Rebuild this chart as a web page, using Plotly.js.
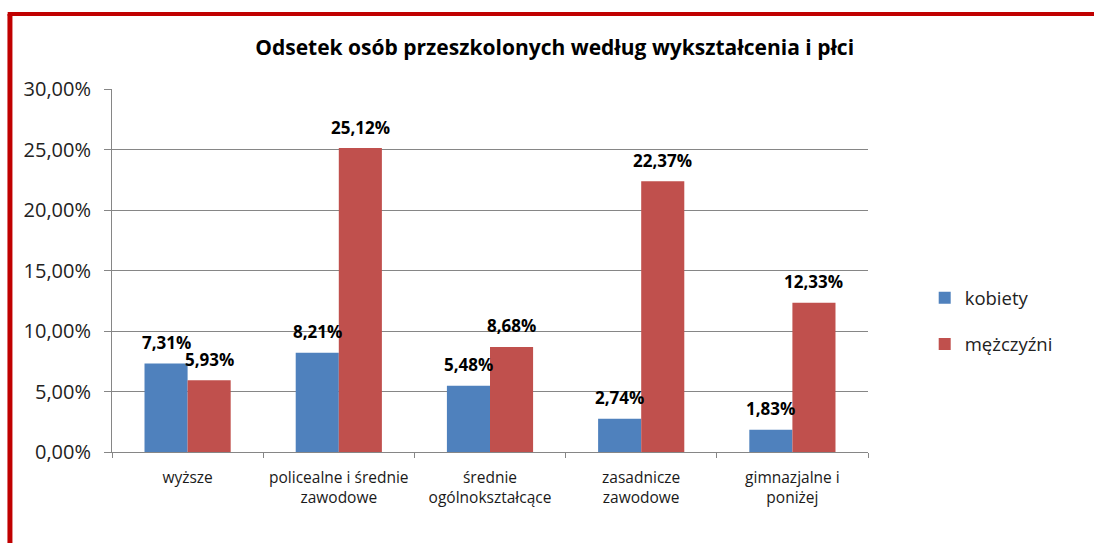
<!DOCTYPE html>
<html>
<head>
<meta charset="utf-8">
<script src="https://cdn.plot.ly/plotly-3.0.1.min.js"></script>
<style>html,body{margin:0;padding:0;background:#fff;}#chart{width:1094px;height:543px;}</style>
</head>
<body>
<div id="chart"></div>
<script>
const categories = ["wyższe", "policealne i średnie<br>zawodowe", "średnie<br>ogólnokształcące", "zasadnicze<br>zawodowe", "gimnazjalne i<br>poniżej"];
const kobiety = [0.0731, 0.0821, 0.0548, 0.0274, 0.0183];
const mezczyzni = [0.0593, 0.2512, 0.0868, 0.2237, 0.1233];
const seriesNames = ["kobiety", "mężczyźni"];
const seriesColors = ["#4F81BD", "#C0504D"];
const yTicks = [0, 0.05, 0.10, 0.15, 0.20, 0.25, 0.30];

const mainFont = "'Open Sans', Lato, sans-serif";
const allSeries = [kobiety, mezczyzni];

const traces = allSeries.map((vals, i) => ({
  type: "bar", name: seriesNames[i], x: categories, y: vals,
  marker: {color: seriesColors[i]}, legendgroup: "g" + i, hoverinfo: "none"
}));

const fmt = v => (v * 100).toFixed(2).replace(".", ",") + "%";
const annotations = [];
allSeries.forEach((vals, i) => {
  vals.forEach((v, j) => {
    annotations.push({
      x: categories[j], y: v, xref: "x", yref: "y",
      text: "<b>" + fmt(v) + "</b>", showarrow: false,
      xshift: (i === 0 ? -21.5 : 21.5), yshift: 21, yanchor: "middle", xanchor: "center",
      font: {family: mainFont, size: 17, color: "#000"}
    });
  });
});

const layout = {
  width: 1094, height: 543,
  separators: ", ",
  paper_bgcolor: "#fff", plot_bgcolor: "#fff",
  margin: {l: 112, r: 226, t: 89, b: 91},
  bargap: 0.43, bargroupgap: 0,
  barmode: "group",
  title: {text: "<b>Odsetek osób przeszkolonych według wykształcenia i płci</b>",
          font: {family: mainFont, size: 21, color: "#000"},
          x: 0.507, xanchor: "center", y: 0.913, yanchor: "middle"},
  xaxis: {type: "category", showline: true, linecolor: "#868686", linewidth: 1,
          ticks: "outside", tickson: "boundaries", ticklen: 5, tickcolor: "#868686",
          tickangle: 0,
          tickfont: {family: mainFont, size: 15.5, color: "#1a1a1a"},
          ticklabelstandoff: 11,
          showgrid: false, zeroline: false},
  yaxis: {range: [0, 0.30], tickvals: yTicks, tickformat: ".2%",
          showline: true, linecolor: "#868686", linewidth: 1,
          ticks: "outside", ticklen: 7, tickcolor: "#868686",
          showgrid: true, gridcolor: "#868686", gridwidth: 1, zeroline: false,
          tickfont: {family: mainFont, size: 20, color: "#222"}, ticklabelstandoff: 9},
  legend: {x: 1.075, y: 0.36, xanchor: "left", yanchor: "middle",
           font: {family: mainFont, size: 18.5, color: "#222"},
           tracegroupgap: 19, itemwidth: 30},
  showlegend: true,
  annotations: annotations,
  shapes: [
    {type: "line", xref: "paper", yref: "paper", x0: -0.135, x1: -0.135, y0: 1.2066, y1: -0.26, line: {color: "#C00000", width: 5}},
    {type: "line", xref: "paper", yref: "paper", x0: -0.138, x1: 1.31, y0: 1.2066, y1: 1.2066, line: {color: "#C00000", width: 4}}
  ]
};

Plotly.newPlot("chart", traces, layout, {displayModeBar: false, staticPlot: true});
</script>
</body>
</html>
